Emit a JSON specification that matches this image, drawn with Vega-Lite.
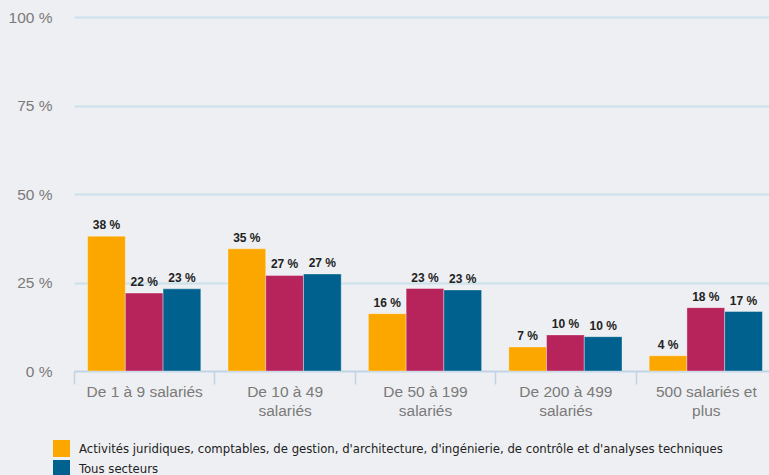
{
  "$schema": "https://vega.github.io/schema/vega-lite/v6.json",
  "autosize": "none",
  "width": 695,
  "height": 354,
  "padding": {"left": 74, "top": 17, "right": 0, "bottom": 104},
  "background": "#eeeff2",
  "config": {
    "view": {"stroke": null},
    "font": "Liberation Sans"
  },
  "data": {
    "values": [
      {"cat": "De 1 à 9 salariés", "serie": "Activités juridiques, comptables, de gestion, d'architecture, d'ingénierie, de contrôle et d'analyses techniques", "value": 38.1, "label": "38 %"},
      {"cat": "De 1 à 9 salariés", "serie": "Activités spécialisées, scientifiques et techniques", "value": 22.0, "label": "22 %"},
      {"cat": "De 1 à 9 salariés", "serie": "Tous secteurs", "value": 23.2, "label": "23 %"},
      {"cat": "De 10 à 49 salariés", "serie": "Activités juridiques, comptables, de gestion, d'architecture, d'ingénierie, de contrôle et d'analyses techniques", "value": 34.5, "label": "35 %"},
      {"cat": "De 10 à 49 salariés", "serie": "Activités spécialisées, scientifiques et techniques", "value": 27.0, "label": "27 %"},
      {"cat": "De 10 à 49 salariés", "serie": "Tous secteurs", "value": 27.4, "label": "27 %"},
      {"cat": "De 50 à 199 salariés", "serie": "Activités juridiques, comptables, de gestion, d'architecture, d'ingénierie, de contrôle et d'analyses techniques", "value": 16.2, "label": "16 %"},
      {"cat": "De 50 à 199 salariés", "serie": "Activités spécialisées, scientifiques et techniques", "value": 23.3, "label": "23 %"},
      {"cat": "De 50 à 199 salariés", "serie": "Tous secteurs", "value": 22.9, "label": "23 %"},
      {"cat": "De 200 à 499 salariés", "serie": "Activités juridiques, comptables, de gestion, d'architecture, d'ingénierie, de contrôle et d'analyses techniques", "value": 6.8, "label": "7 %"},
      {"cat": "De 200 à 499 salariés", "serie": "Activités spécialisées, scientifiques et techniques", "value": 10.2, "label": "10 %"},
      {"cat": "De 200 à 499 salariés", "serie": "Tous secteurs", "value": 9.7, "label": "10 %"},
      {"cat": "500 salariés et plus", "serie": "Activités juridiques, comptables, de gestion, d'architecture, d'ingénierie, de contrôle et d'analyses techniques", "value": 4.3, "label": "4 %"},
      {"cat": "500 salariés et plus", "serie": "Activités spécialisées, scientifiques et techniques", "value": 17.9, "label": "18 %"},
      {"cat": "500 salariés et plus", "serie": "Tous secteurs", "value": 16.8, "label": "17 %"}
    ]
  },
  "encoding": {
    "x": {
      "field": "cat",
      "type": "nominal",
      "sort": ["De 1 à 9 salariés", "De 10 à 49 salariés", "De 50 à 199 salariés", "De 200 à 499 salariés", "500 salariés et plus"],
      "scale": {"paddingInner": 0, "paddingOuter": 0, "range": [0, 702]},
      "axis": {
        "title": null,
        "labelAngle": 0,
        "tickBand": "extent",
        "domainColor": "#c3d3e6",
        "domainWidth": 1.5,
        "tickColor": "#c3d3e6",
        "tickWidth": 1.5,
        "tickSize": 13,
        "labelPadding": 0,
        "labelFont": "Liberation Sans",
        "labelFontSize": 15.5,
        "labelColor": "#7a7a7a",
        "labelLineHeight": 19,
        "labelLimit": 0,
        "labelExpr": "datum.value == 'De 10 à 49 salariés' ? ['De 10 à 49', 'salariés'] : datum.value == 'De 50 à 199 salariés' ? ['De 50 à 199', 'salariés'] : datum.value == 'De 200 à 499 salariés' ? ['De 200 à 499', 'salariés'] : datum.value == '500 salariés et plus' ? ['500 salariés et', 'plus'] : datum.value"
      }
    },
    "xOffset": {
      "field": "serie",
      "type": "nominal",
      "sort": ["Activités juridiques, comptables, de gestion, d'architecture, d'ingénierie, de contrôle et d'analyses techniques", "Activités spécialisées, scientifiques et techniques", "Tous secteurs"],
      "scale": {"paddingInner": 0, "paddingOuter": 0.36}
    },
    "y": {
      "field": "value",
      "type": "quantitative",
      "scale": {"domain": [0, 100]},
      "axis": {
        "title": null,
        "values": [0, 25, 50, 75, 100],
        "domain": false,
        "ticks": false,
        "labelPadding": 22,
        "labelFont": "Liberation Sans",
        "labelFontSize": 15.5,
        "labelColor": "#7a7a7a",
        "labelExpr": "datum.value + ' %'",
        "gridColor": "#cae2ea",
        "gridWidth": 2
      }
    }
  },
  "layer": [
    {
      "mark": {"type": "bar", "stroke": "#ffffff", "strokeOpacity": 0.35, "strokeWidth": 1},
      "encoding": {
        "color": {
          "field": "serie",
          "type": "nominal",
          "scale": {
            "domain": ["Activités juridiques, comptables, de gestion, d'architecture, d'ingénierie, de contrôle et d'analyses techniques", "Tous secteurs", "Activités spécialisées, scientifiques et techniques"],
            "range": ["#fca700", "#00618e", "#b7245c"]
          },
          "legend": {
            "title": null,
            "orient": "none",
            "legendX": -21,
            "legendY": 423,
            "padding": 0,
            "symbolType": "square",
            "symbolSize": 289,
            "symbolStrokeWidth": 0,
            "symbolOpacity": 1,
            "labelFont": "DejaVu Sans Condensed",
            "labelFontSize": 13,
            "labelColor": "#222222",
            "labelOffset": 9,
            "labelLimit": 0,
            "rowPadding": 3
          }
        }
      }
    },
    {
      "mark": {"type": "text", "baseline": "alphabetic", "dy": -7, "fontWeight": "bold", "fontSize": 12, "font": "Liberation Sans", "color": "#222222"},
      "encoding": {
        "text": {"field": "label"}
      }
    }
  ]
}
